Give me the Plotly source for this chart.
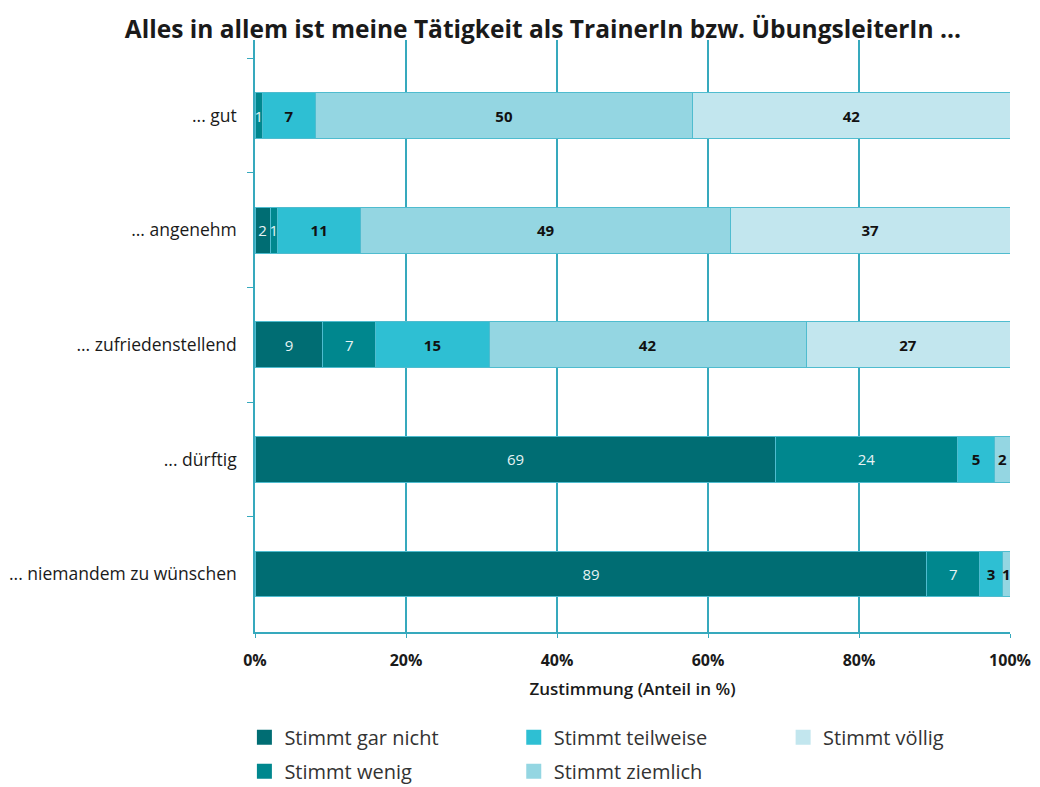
import plotly.graph_objects as go

# Survey statements (top to bottom) and answer shares in percent
statements = ["... gut", "... angenehm", "... zufriedenstellend", "... dürftig", "... niemandem zu wünschen"]
answers = ["Stimmt gar nicht", "Stimmt wenig", "Stimmt teilweise", "Stimmt ziemlich", "Stimmt völlig"]

gar_nicht = [0, 2, 9, 69, 89]
wenig = [1, 1, 7, 24, 7]
teilweise = [7, 11, 15, 5, 3]
ziemlich = [50, 49, 42, 2, 1]
voellig = [42, 37, 27, 0, 0]

x_ticks = [0, 20, 40, 60, 80, 100]
x_tick_labels = ["0%", "20%", "40%", "60%", "80%", "100%"]

series = [gar_nicht, wenig, teilweise, ziemlich, voellig]
colors = ["#006d73", "#00878e", "#2ebfd3", "#94d6e2", "#c2e6ee"]
text_colors = ["#e6f3f4", "#e6f3f4", "#111111", "#111111", "#111111"]
text_weights = ["normal", "normal", "bold", "bold", "bold"]
# legend columns: each column is its own vertical legend
legend_ids = ["legend", "legend", "legend2", "legend2", "legend3"]

FONT = "Open Sans"
TEAL = "#36a9bd"

fig = go.Figure()
for name, vals, col, tcol, tw in zip(answers, series, colors, text_colors, text_weights):
    fig.add_trace(go.Bar(
        name=name,
        y=statements,
        x=vals,
        orientation="h",
        marker=dict(color=col, line=dict(color="#4fbccf", width=1)),
        text=[str(v) if v > 0 else "" for v in vals],
        textposition="inside",
        insidetextanchor="middle",
        textfont=dict(family=FONT, size=15, color=tcol, weight=tw),
        showlegend=False,
        hoverinfo="x+y+name",
    ))

# legend entries with square swatches
for name, col, lg in zip(answers, colors, legend_ids):
    fig.add_trace(go.Scatter(
        x=[None], y=[None], mode="markers", name=name,
        marker=dict(symbol="square", size=15, color=col),
        legend=lg, legendgroup=name, showlegend=True, hoverinfo="skip",
    ))

legend_style = dict(
    orientation="v",
    xref="container", yref="container",
    xanchor="left", y=0.088, yanchor="top",
    tracegroupgap=5,
    font=dict(family=FONT, size=20, color="#333333"),
    bgcolor="rgba(0,0,0,0)",
)

fig.update_layout(
    barmode="stack",
    bargap=0.6,
    width=1040,
    height=787,
    margin=dict(l=255, r=30, t=40, b=155, autoexpand=False),
    plot_bgcolor="white",
    paper_bgcolor="white",
    uniformtext=dict(minsize=15, mode="show"),
    font=dict(family=FONT, color="#222222"),
    title=dict(
        text="<b>Alles in allem ist meine Tätigkeit als TrainerIn bzw. ÜbungsleiterIn ...</b>",
        x=0.522, xanchor="center", y=0.962, yanchor="middle",
        font=dict(family=FONT, size=24.5, color="#1a1a1a"),
    ),
    xaxis=dict(
        range=[0, 100],
        tickvals=x_ticks,
        ticktext=x_tick_labels,
        showgrid=True,
        gridcolor=TEAL,
        gridwidth=1.5,
        showline=True,
        linecolor=TEAL,
        linewidth=1.5,
        ticks="outside",
        ticklen=4,
        tickcolor=TEAL,
        ticklabelstandoff=9,
        tickfont=dict(family=FONT, size=16, color="#1a1a1a", weight="bold"),
        zeroline=False,
        title=dict(text="Zustimmung (Anteil in %)", standoff=13,
                   font=dict(family=FONT, size=17, color="#1a1a1a", weight=600)),
    ),
    yaxis=dict(
        type="category",
        categoryorder="array",
        categoryarray=statements,
        range=[4.506, -0.66],
        tickson="boundaries",
        ticks="outside",
        ticklen=6,
        tickcolor=TEAL,
        showline=True,
        linecolor=TEAL,
        linewidth=1.5,
        showgrid=False,
        ticklabelstandoff=13,
        tickfont=dict(family=FONT, size=17.5, color="#1a1a1a"),
    ),
    legend=dict(legend_style, x=0.235),
    legend2=dict(legend_style, x=0.494),
    legend3=dict(legend_style, x=0.753),
)

fig.write_html("out.html")
